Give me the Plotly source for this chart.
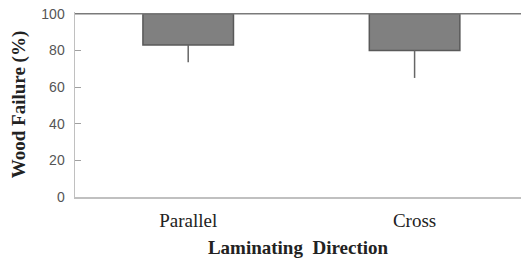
import plotly.graph_objects as go

categories = ["Parallel", "Cross"]
wood_failure = [83, 80]
error_minus = [9.5, 15]
y_ticks = [0, 20, 40, 60, 80, 100]
axis_top = 100

fig = go.Figure()
fig.add_trace(go.Bar(
    x=categories,
    y=[v - axis_top for v in wood_failure],
    base=axis_top,
    width=0.4,
    marker=dict(color="#808080", line=dict(color="#595959", width=1.5)),
    error_y=dict(type="data", symmetric=False, array=[0, 0], arrayminus=error_minus,
                 color="#666666", thickness=1.5, width=0),
    hoverinfo="skip",
))

fig.add_shape(type="line", xref="paper", yref="y", x0=0, x1=1, y0=axis_top, y1=axis_top,
              line=dict(color="#7a7a7a", width=1.5), layer="above")

fig.update_layout(
    width=521, height=258,
    margin=dict(l=75, r=0, t=12, b=61),
    plot_bgcolor="white", paper_bgcolor="white",
    showlegend=False,
    xaxis=dict(
        range=[-0.5, 1.47],
        automargin=False,
        showline=True, linecolor="#c0c0c0", linewidth=2,
        ticks="", showgrid=False,
        tickfont=dict(family="Liberation Serif, Times New Roman, serif", size=19, color="#222222"),
        ticklabelstandoff=5,
        title=dict(text="<b>Laminating\u00a0\u00a0Direction</b>",
                   font=dict(family="Liberation Serif, Times New Roman, serif", size=19, color="#222222"),
                   standoff=11),
    ),
    yaxis=dict(
        range=[0, 101],
        automargin=False,
        tickvals=y_ticks,
        ticklabeloverflow="allow",
        showline=True, linecolor="#c0c0c0", linewidth=1.5,
        ticks="inside", ticklen=6, tickcolor="#a0a0a0", tickwidth=1,
        showgrid=False, zeroline=False,
        tickfont=dict(family="Liberation Sans, Arial, sans-serif", size=14, color="#555555"),
        ticklabelstandoff=6,
        title=dict(text="<b>Wood Failure (%)</b>",
                   font=dict(family="Liberation Serif, Times New Roman, serif", size=19, color="#222222"),
                   standoff=10),
    ),
)

fig.write_html("out.html",
               config={"displayModeBar": False, "staticPlot": True},
               post_script="document.body.style.margin='0';document.body.style.overflow='hidden';")
